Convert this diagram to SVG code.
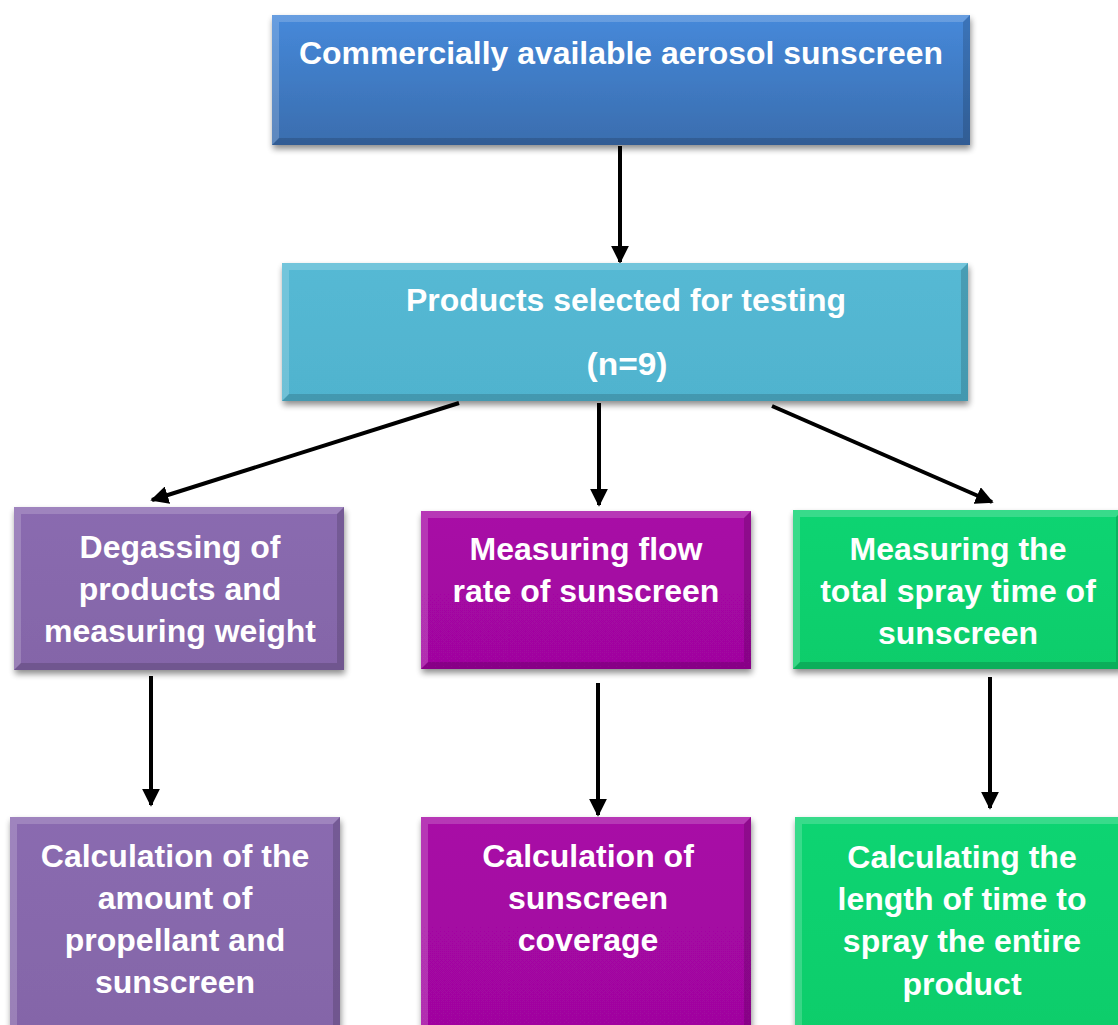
<svg xmlns="http://www.w3.org/2000/svg" width="1118" height="1025" viewBox="0 0 1118 1025">
<style>
.t{font-family:"Liberation Sans",Arial,sans-serif;font-weight:bold;fill:#fff;text-anchor:middle;font-size:32px}
.c{stroke:#000;stroke-width:4;fill:none;marker-end:url(#ah)}
.hl{fill:#fff;opacity:0.18}
.sh{fill:#000;opacity:0.15}
</style>
<defs>
<marker id="ah" viewBox="0 0 10 10" refX="9" refY="5" markerWidth="4.5" markerHeight="4.5" orient="auto" markerUnits="strokeWidth">
<path d="M0,0 L10,5 L0,10 z" fill="#000"/>
</marker>
<filter id="ds" x="-5%" y="-5%" width="112%" height="120%">
<feGaussianBlur in="SourceAlpha" stdDeviation="3"/>
<feOffset dx="1" dy="4" result="b"/>
<feComponentTransfer><feFuncA type="linear" slope="0.45"/></feComponentTransfer>
<feMerge><feMergeNode/><feMergeNode in="SourceGraphic"/></feMerge>
</filter>
<linearGradient id="gBlue" x1="0" y1="0" x2="0" y2="1"><stop offset="0" stop-color="#4689da"/><stop offset="1" stop-color="#3a6dae"/></linearGradient>
<linearGradient id="gCyan" x1="0" y1="0" x2="0" y2="1"><stop offset="0" stop-color="#55b9d4"/><stop offset="1" stop-color="#50b3ce"/></linearGradient>
<linearGradient id="gPur" x1="0" y1="0" x2="0" y2="1"><stop offset="0" stop-color="#8a6bb0"/><stop offset="1" stop-color="#8465a8"/></linearGradient>
<linearGradient id="gMag" x1="0" y1="0" x2="0" y2="1"><stop offset="0" stop-color="#a808a6"/><stop offset="1" stop-color="#a0069f"/></linearGradient>
<linearGradient id="gGrn" x1="0" y1="0" x2="0" y2="1"><stop offset="0" stop-color="#0ad472"/><stop offset="1" stop-color="#07cd6b"/></linearGradient>
</defs>

<g id="connectors">
<line class="c" x1="620" y1="146" x2="620" y2="262"/>
<line class="c" x1="459" y1="403" x2="152" y2="500"/>
<line class="c" x1="599" y1="403" x2="599" y2="505"/>
<line class="c" x1="772" y1="406" x2="992" y2="502"/>
<line class="c" x1="151" y1="676" x2="151" y2="805"/>
<line class="c" x1="598" y1="683" x2="598" y2="815"/>
<line class="c" x1="990" y1="677" x2="990" y2="808"/>
</g>

<g id="n1">
<rect x="272" y="15" width="698" height="130" fill="url(#gBlue)" filter="url(#ds)"/>
<path class="hl" d="M272,15 H970 L963,22 H279 V138 L272,145 Z"/>
<path class="sh" d="M970,15 V145 H272 L279,138 H963 V22 Z"/>
<text class="t" x="621" y="64" font-size="30" textLength="644" lengthAdjust="spacingAndGlyphs">Commercially available aerosol sunscreen</text>
</g>

<g id="n2">
<rect x="282" y="263" width="686" height="138" fill="url(#gCyan)" filter="url(#ds)"/>
<path class="hl" d="M282,263 H968 L961,270 H289 V394 L282,401 Z"/>
<path class="sh" d="M968,263 V401 H282 L289,394 H961 V270 Z"/>
<text class="t" x="626" y="311" font-size="30" textLength="440" lengthAdjust="spacingAndGlyphs">Products selected for testing</text>
<text class="t" x="627" y="375" font-size="30" textLength="81" lengthAdjust="spacingAndGlyphs">(n=9)</text>
</g>

<g id="n3">
<rect x="14" y="507" width="330" height="163" fill="url(#gPur)" filter="url(#ds)"/>
<path class="hl" d="M14,507 H344 L337,514 H21 V663 L14,670 Z"/>
<path class="sh" d="M344,507 V670 H14 L21,663 H337 V514 Z"/>
<text class="t" x="180" y="558">Degassing of</text>
<text class="t" x="180" y="600">products and</text>
<text class="t" x="180" y="642">measuring weight</text>
</g>

<g id="n4">
<rect x="421" y="511" width="330" height="158" fill="url(#gMag)" filter="url(#ds)"/>
<path class="hl" d="M421,511 H751 L744,518 H428 V662 L421,669 Z"/>
<path class="sh" d="M751,511 V669 H421 L428,662 H744 V518 Z"/>
<text class="t" x="586" y="560">Measuring flow</text>
<text class="t" x="586" y="602">rate of sunscreen</text>
</g>

<g id="n5">
<rect x="793" y="510" width="330" height="159" fill="url(#gGrn)" filter="url(#ds)"/>
<path class="hl" d="M793,510 H1123 L1116,517 H800 V662 L793,669 Z"/>
<path class="sh" d="M1123,510 V669 H793 L800,662 H1116 V517 Z"/>
<text class="t" x="958" y="560">Measuring the</text>
<text class="t" x="958" y="602">total spray time of</text>
<text class="t" x="958" y="644">sunscreen</text>
</g>

<g id="n6">
<rect x="10" y="817" width="330" height="215" fill="url(#gPur)" filter="url(#ds)"/>
<path class="hl" d="M10,817 H340 L333,824 H17 V1032 L10,1032 Z"/>
<path class="sh" d="M340,817 V1032 H333 V824 Z"/>
<text class="t" x="175" y="867">Calculation of the</text>
<text class="t" x="175" y="909">amount of</text>
<text class="t" x="175" y="951">propellant and</text>
<text class="t" x="175" y="993">sunscreen</text>
</g>

<g id="n7">
<rect x="421" y="817" width="330" height="215" fill="url(#gMag)" filter="url(#ds)"/>
<path class="hl" d="M421,817 H751 L744,824 H428 V1032 L421,1032 Z"/>
<path class="sh" d="M751,817 V1032 H744 V824 Z"/>
<text class="t" x="588" y="867">Calculation of</text>
<text class="t" x="588" y="909">sunscreen</text>
<text class="t" x="588" y="951">coverage</text>
</g>

<g id="n8">
<rect x="795" y="817" width="330" height="215" fill="url(#gGrn)" filter="url(#ds)"/>
<path class="hl" d="M795,817 H1125 L1118,824 H802 V1032 L795,1032 Z"/>
<text class="t" x="962" y="868">Calculating the</text>
<text class="t" x="962" y="910">length of time to</text>
<text class="t" x="962" y="952">spray the entire</text>
<text class="t" x="962" y="995">product</text>
</g>
</svg>
